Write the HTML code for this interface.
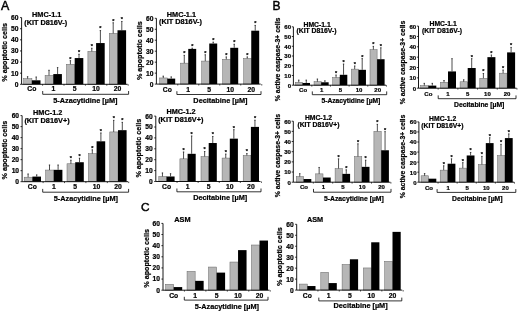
<!DOCTYPE html>
<html><head><meta charset="utf-8"><style>
html,body{margin:0;padding:0;background:#fff;}
svg{display:block;}
text{font-family:"Liberation Sans", sans-serif;font-weight:bold;fill:#000;stroke:#000;stroke-width:0.22px;}
svg{will-change:transform;}
</style></head><body>
<svg width="520" height="311" viewBox="0 0 520 311">
<rect width="520" height="311" fill="#fff"/>
<rect x="23.70" y="78.63" width="8.20" height="5.67" fill="#b6b6b6" stroke="#666" stroke-width="0.5"/>
<rect x="31.90" y="80.30" width="8.60" height="4.00" fill="#000"/>
<line x1="27.60" y1="78.63" x2="27.60" y2="76.41" stroke="#222" stroke-width="0.8"/>
<line x1="26.90" y1="76.71" x2="28.30" y2="76.71" stroke="#222" stroke-width="0.7"/>
<line x1="36.20" y1="80.30" x2="36.20" y2="76.74" stroke="#222" stroke-width="0.8"/>
<line x1="35.50" y1="77.04" x2="36.90" y2="77.04" stroke="#222" stroke-width="0.7"/>
<rect x="45.10" y="75.41" width="8.20" height="8.89" fill="#b6b6b6" stroke="#666" stroke-width="0.5"/>
<rect x="53.30" y="74.07" width="8.60" height="10.23" fill="#000"/>
<line x1="49.00" y1="75.41" x2="49.00" y2="69.96" stroke="#222" stroke-width="0.8"/>
<line x1="48.30" y1="70.26" x2="49.70" y2="70.26" stroke="#222" stroke-width="0.7"/>
<line x1="57.60" y1="74.07" x2="57.60" y2="67.29" stroke="#222" stroke-width="0.8"/>
<line x1="56.90" y1="67.59" x2="58.30" y2="67.59" stroke="#222" stroke-width="0.7"/>
<rect x="66.50" y="64.29" width="8.20" height="20.01" fill="#b6b6b6" stroke="#666" stroke-width="0.5"/>
<rect x="74.70" y="58.06" width="8.60" height="26.24" fill="#000"/>
<line x1="70.40" y1="64.29" x2="70.40" y2="60.40" stroke="#222" stroke-width="0.8"/>
<line x1="69.70" y1="60.70" x2="71.10" y2="60.70" stroke="#222" stroke-width="0.7"/>
<text x="70.40" y="60.60" font-size="5.5" text-anchor="middle" >*</text>
<line x1="79.00" y1="58.06" x2="79.00" y2="53.95" stroke="#222" stroke-width="0.8"/>
<line x1="78.30" y1="54.25" x2="79.70" y2="54.25" stroke="#222" stroke-width="0.7"/>
<text x="79.00" y="54.15" font-size="5.5" text-anchor="middle" >*</text>
<rect x="87.90" y="51.39" width="8.20" height="32.91" fill="#b6b6b6" stroke="#666" stroke-width="0.5"/>
<rect x="96.10" y="43.06" width="8.60" height="41.24" fill="#000"/>
<line x1="91.80" y1="51.39" x2="91.80" y2="47.95" stroke="#222" stroke-width="0.8"/>
<line x1="91.10" y1="48.25" x2="92.50" y2="48.25" stroke="#222" stroke-width="0.7"/>
<text x="91.80" y="48.15" font-size="5.5" text-anchor="middle" >*</text>
<line x1="100.40" y1="43.06" x2="100.40" y2="30.27" stroke="#222" stroke-width="0.8"/>
<line x1="99.70" y1="30.57" x2="101.10" y2="30.57" stroke="#222" stroke-width="0.7"/>
<text x="100.40" y="30.47" font-size="5.5" text-anchor="middle" >*</text>
<rect x="109.30" y="33.39" width="8.20" height="50.91" fill="#b6b6b6" stroke="#666" stroke-width="0.5"/>
<rect x="117.50" y="30.27" width="8.60" height="54.03" fill="#000"/>
<line x1="113.20" y1="33.39" x2="113.20" y2="22.49" stroke="#222" stroke-width="0.8"/>
<line x1="112.50" y1="22.79" x2="113.90" y2="22.79" stroke="#222" stroke-width="0.7"/>
<text x="113.20" y="22.69" font-size="5.5" text-anchor="middle" >*</text>
<line x1="121.80" y1="30.27" x2="121.80" y2="21.16" stroke="#222" stroke-width="0.8"/>
<line x1="121.10" y1="21.46" x2="122.50" y2="21.46" stroke="#222" stroke-width="0.7"/>
<text x="121.80" y="21.36" font-size="5.5" text-anchor="middle" >*</text>
<line x1="21.60" y1="17.60" x2="21.60" y2="84.30" stroke="#000" stroke-width="0.9"/>
<line x1="21.60" y1="84.30" x2="127.60" y2="84.30" stroke="#000" stroke-width="0.9"/>
<line x1="20.00" y1="84.30" x2="21.60" y2="84.30" stroke="#000" stroke-width="0.8"/>
<text x="18.40" y="86.71" font-size="6.7" text-anchor="end" >0</text>
<line x1="20.00" y1="73.18" x2="21.60" y2="73.18" stroke="#000" stroke-width="0.8"/>
<text x="18.40" y="75.60" font-size="6.7" text-anchor="end" >10</text>
<line x1="20.00" y1="62.07" x2="21.60" y2="62.07" stroke="#000" stroke-width="0.8"/>
<text x="18.40" y="64.48" font-size="6.7" text-anchor="end" >20</text>
<line x1="20.00" y1="50.95" x2="21.60" y2="50.95" stroke="#000" stroke-width="0.8"/>
<text x="18.40" y="53.36" font-size="6.7" text-anchor="end" >30</text>
<line x1="20.00" y1="39.83" x2="21.60" y2="39.83" stroke="#000" stroke-width="0.8"/>
<text x="18.40" y="42.25" font-size="6.7" text-anchor="end" >40</text>
<line x1="20.00" y1="28.72" x2="21.60" y2="28.72" stroke="#000" stroke-width="0.8"/>
<text x="18.40" y="31.13" font-size="6.7" text-anchor="end" >50</text>
<line x1="20.00" y1="17.60" x2="21.60" y2="17.60" stroke="#000" stroke-width="0.8"/>
<text x="18.40" y="20.01" font-size="6.7" text-anchor="end" >60</text>
<line x1="42.60" y1="84.30" x2="42.60" y2="85.70" stroke="#000" stroke-width="0.7"/>
<line x1="64.00" y1="84.30" x2="64.00" y2="85.70" stroke="#000" stroke-width="0.7"/>
<line x1="85.40" y1="84.30" x2="85.40" y2="85.70" stroke="#000" stroke-width="0.7"/>
<line x1="106.80" y1="84.30" x2="106.80" y2="85.70" stroke="#000" stroke-width="0.7"/>
<line x1="128.20" y1="84.30" x2="128.20" y2="85.70" stroke="#000" stroke-width="0.7"/>
<text x="31.90" y="91.30" font-size="6.8" text-anchor="middle" >Co</text>
<text x="53.30" y="91.30" font-size="6.8" text-anchor="middle" >1</text>
<text x="74.70" y="91.30" font-size="6.8" text-anchor="middle" >5</text>
<text x="96.10" y="91.30" font-size="6.8" text-anchor="middle" >10</text>
<text x="117.50" y="91.30" font-size="6.8" text-anchor="middle" >20</text>
<path d="M42.70,91.00 V94.30 H128.60 V91.00" fill="none" stroke="#000" stroke-width="0.8"/>
<text x="85.40" y="103.30" font-size="7.3" text-anchor="middle" >5-Azacytidine [µM]</text>
<text x="46.70" y="17.20" font-size="7.3" text-anchor="middle" >HMC-1.1</text>
<text x="45.70" y="25.20" font-size="7.3" text-anchor="middle" >(KIT D816V-)</text>
<text transform="translate(7.45,52.35) rotate(-90)" x="0" y="0" font-size="7.2" text-anchor="middle">% apoptotic cells</text>
<rect x="159.70" y="77.96" width="7.55" height="6.14" fill="#b6b6b6" stroke="#666" stroke-width="0.5"/>
<rect x="167.25" y="78.62" width="7.95" height="5.48" fill="#000"/>
<line x1="163.28" y1="77.96" x2="163.28" y2="75.88" stroke="#222" stroke-width="0.8"/>
<line x1="162.58" y1="76.17" x2="163.97" y2="76.17" stroke="#222" stroke-width="0.7"/>
<line x1="171.23" y1="78.62" x2="171.23" y2="76.64" stroke="#222" stroke-width="0.8"/>
<line x1="170.53" y1="76.94" x2="171.93" y2="76.94" stroke="#222" stroke-width="0.7"/>
<rect x="180.70" y="63.15" width="7.55" height="20.95" fill="#b6b6b6" stroke="#666" stroke-width="0.5"/>
<rect x="188.25" y="48.90" width="7.95" height="35.20" fill="#000"/>
<line x1="184.28" y1="63.15" x2="184.28" y2="55.04" stroke="#222" stroke-width="0.8"/>
<line x1="183.58" y1="55.34" x2="184.97" y2="55.34" stroke="#222" stroke-width="0.7"/>
<text x="184.28" y="55.24" font-size="5.5" text-anchor="middle" >*</text>
<line x1="192.23" y1="48.90" x2="192.23" y2="47.91" stroke="#222" stroke-width="0.8"/>
<line x1="191.53" y1="48.21" x2="192.93" y2="48.21" stroke="#222" stroke-width="0.7"/>
<text x="192.23" y="48.11" font-size="5.5" text-anchor="middle" >*</text>
<rect x="201.70" y="61.07" width="7.55" height="23.03" fill="#b6b6b6" stroke="#666" stroke-width="0.5"/>
<rect x="209.25" y="43.52" width="7.95" height="40.58" fill="#000"/>
<line x1="205.28" y1="61.07" x2="205.28" y2="54.49" stroke="#222" stroke-width="0.8"/>
<line x1="204.58" y1="54.79" x2="205.97" y2="54.79" stroke="#222" stroke-width="0.7"/>
<text x="205.28" y="54.69" font-size="5.5" text-anchor="middle" >*</text>
<line x1="213.23" y1="43.52" x2="213.23" y2="41.88" stroke="#222" stroke-width="0.8"/>
<line x1="212.53" y1="42.18" x2="213.93" y2="42.18" stroke="#222" stroke-width="0.7"/>
<text x="213.23" y="42.08" font-size="5.5" text-anchor="middle" >*</text>
<rect x="222.70" y="59.32" width="7.55" height="24.78" fill="#b6b6b6" stroke="#666" stroke-width="0.5"/>
<rect x="230.25" y="47.80" width="7.95" height="36.30" fill="#000"/>
<line x1="226.28" y1="59.32" x2="226.28" y2="56.68" stroke="#222" stroke-width="0.8"/>
<line x1="225.58" y1="56.98" x2="226.97" y2="56.98" stroke="#222" stroke-width="0.7"/>
<text x="226.28" y="56.88" font-size="5.5" text-anchor="middle" >*</text>
<line x1="234.23" y1="47.80" x2="234.23" y2="43.96" stroke="#222" stroke-width="0.8"/>
<line x1="233.53" y1="44.26" x2="234.93" y2="44.26" stroke="#222" stroke-width="0.7"/>
<text x="234.23" y="44.16" font-size="5.5" text-anchor="middle" >*</text>
<rect x="243.70" y="58.44" width="7.55" height="25.66" fill="#b6b6b6" stroke="#666" stroke-width="0.5"/>
<rect x="251.25" y="30.69" width="7.95" height="53.41" fill="#000"/>
<line x1="247.28" y1="58.44" x2="247.28" y2="56.68" stroke="#222" stroke-width="0.8"/>
<line x1="246.58" y1="56.98" x2="247.97" y2="56.98" stroke="#222" stroke-width="0.7"/>
<text x="247.28" y="56.88" font-size="5.5" text-anchor="middle" >*</text>
<line x1="255.23" y1="30.69" x2="255.23" y2="25.10" stroke="#222" stroke-width="0.8"/>
<line x1="254.53" y1="25.40" x2="255.93" y2="25.40" stroke="#222" stroke-width="0.7"/>
<text x="255.23" y="25.30" font-size="5.5" text-anchor="middle" >*</text>
<line x1="156.40" y1="18.30" x2="156.40" y2="84.10" stroke="#000" stroke-width="0.9"/>
<line x1="156.40" y1="84.10" x2="260.70" y2="84.10" stroke="#000" stroke-width="0.9"/>
<line x1="154.80" y1="84.10" x2="156.40" y2="84.10" stroke="#000" stroke-width="0.8"/>
<text x="153.40" y="86.51" font-size="6.7" text-anchor="end" >0</text>
<line x1="154.80" y1="73.13" x2="156.40" y2="73.13" stroke="#000" stroke-width="0.8"/>
<text x="153.40" y="75.55" font-size="6.7" text-anchor="end" >10</text>
<line x1="154.80" y1="62.17" x2="156.40" y2="62.17" stroke="#000" stroke-width="0.8"/>
<text x="153.40" y="64.58" font-size="6.7" text-anchor="end" >20</text>
<line x1="154.80" y1="51.20" x2="156.40" y2="51.20" stroke="#000" stroke-width="0.8"/>
<text x="153.40" y="53.61" font-size="6.7" text-anchor="end" >30</text>
<line x1="154.80" y1="40.23" x2="156.40" y2="40.23" stroke="#000" stroke-width="0.8"/>
<text x="153.40" y="42.65" font-size="6.7" text-anchor="end" >40</text>
<line x1="154.80" y1="29.27" x2="156.40" y2="29.27" stroke="#000" stroke-width="0.8"/>
<text x="153.40" y="31.68" font-size="6.7" text-anchor="end" >50</text>
<line x1="154.80" y1="18.30" x2="156.40" y2="18.30" stroke="#000" stroke-width="0.8"/>
<text x="153.40" y="20.71" font-size="6.7" text-anchor="end" >60</text>
<line x1="177.75" y1="84.10" x2="177.75" y2="85.50" stroke="#000" stroke-width="0.7"/>
<line x1="198.75" y1="84.10" x2="198.75" y2="85.50" stroke="#000" stroke-width="0.7"/>
<line x1="219.75" y1="84.10" x2="219.75" y2="85.50" stroke="#000" stroke-width="0.7"/>
<line x1="240.75" y1="84.10" x2="240.75" y2="85.50" stroke="#000" stroke-width="0.7"/>
<line x1="261.75" y1="84.10" x2="261.75" y2="85.50" stroke="#000" stroke-width="0.7"/>
<text x="167.25" y="91.70" font-size="6.8" text-anchor="middle" >Co</text>
<text x="188.25" y="91.70" font-size="6.8" text-anchor="middle" >1</text>
<text x="209.25" y="91.70" font-size="6.8" text-anchor="middle" >5</text>
<text x="230.25" y="91.70" font-size="6.8" text-anchor="middle" >10</text>
<text x="251.25" y="91.70" font-size="6.8" text-anchor="middle" >20</text>
<path d="M176.90,91.20 V94.50 H261.00 V91.20" fill="none" stroke="#000" stroke-width="0.8"/>
<text x="220.40" y="103.30" font-size="7.3" text-anchor="middle" >Decitabine [µM]</text>
<text x="181.40" y="17.20" font-size="7.3" text-anchor="middle" >HMC-1.1</text>
<text x="180.50" y="24.40" font-size="7.3" text-anchor="middle" >(KIT D816V-)</text>
<text transform="translate(141.65,50.70) rotate(-90)" x="0" y="0" font-size="7.2" text-anchor="middle">% apoptotic cells</text>
<rect x="24.20" y="177.20" width="8.20" height="4.50" fill="#b6b6b6" stroke="#666" stroke-width="0.5"/>
<rect x="32.40" y="176.59" width="8.60" height="5.11" fill="#000"/>
<line x1="28.10" y1="177.20" x2="28.10" y2="173.73" stroke="#222" stroke-width="0.8"/>
<line x1="27.40" y1="174.03" x2="28.80" y2="174.03" stroke="#222" stroke-width="0.7"/>
<line x1="36.70" y1="176.59" x2="36.70" y2="174.65" stroke="#222" stroke-width="0.8"/>
<line x1="36.00" y1="174.95" x2="37.40" y2="174.95" stroke="#222" stroke-width="0.7"/>
<rect x="45.60" y="170.05" width="8.20" height="11.65" fill="#b6b6b6" stroke="#666" stroke-width="0.5"/>
<rect x="53.80" y="169.83" width="8.60" height="11.87" fill="#000"/>
<line x1="49.50" y1="170.05" x2="49.50" y2="164.76" stroke="#222" stroke-width="0.8"/>
<line x1="48.80" y1="165.06" x2="50.20" y2="165.06" stroke="#222" stroke-width="0.7"/>
<line x1="58.10" y1="169.83" x2="58.10" y2="164.76" stroke="#222" stroke-width="0.8"/>
<line x1="57.40" y1="165.06" x2="58.80" y2="165.06" stroke="#222" stroke-width="0.7"/>
<rect x="67.00" y="163.77" width="8.20" height="17.93" fill="#b6b6b6" stroke="#666" stroke-width="0.5"/>
<rect x="75.20" y="162.23" width="8.60" height="19.47" fill="#000"/>
<line x1="70.90" y1="163.77" x2="70.90" y2="159.92" stroke="#222" stroke-width="0.8"/>
<line x1="70.20" y1="160.22" x2="71.60" y2="160.22" stroke="#222" stroke-width="0.7"/>
<text x="70.90" y="160.12" font-size="5.5" text-anchor="middle" >*</text>
<line x1="79.50" y1="162.23" x2="79.50" y2="157.93" stroke="#222" stroke-width="0.8"/>
<line x1="78.80" y1="158.23" x2="80.20" y2="158.23" stroke="#222" stroke-width="0.7"/>
<text x="79.50" y="158.13" font-size="5.5" text-anchor="middle" >*</text>
<rect x="88.40" y="153.64" width="8.20" height="28.06" fill="#b6b6b6" stroke="#666" stroke-width="0.5"/>
<rect x="96.60" y="141.30" width="8.60" height="40.40" fill="#000"/>
<line x1="92.30" y1="153.64" x2="92.30" y2="149.56" stroke="#222" stroke-width="0.8"/>
<line x1="91.60" y1="149.86" x2="93.00" y2="149.86" stroke="#222" stroke-width="0.7"/>
<text x="92.30" y="149.76" font-size="5.5" text-anchor="middle" >*</text>
<line x1="100.90" y1="141.30" x2="100.90" y2="132.70" stroke="#222" stroke-width="0.8"/>
<line x1="100.20" y1="133.00" x2="101.60" y2="133.00" stroke="#222" stroke-width="0.7"/>
<text x="100.90" y="132.90" font-size="5.5" text-anchor="middle" >*</text>
<rect x="109.80" y="131.93" width="8.20" height="49.77" fill="#b6b6b6" stroke="#666" stroke-width="0.5"/>
<rect x="118.00" y="130.17" width="8.60" height="51.53" fill="#000"/>
<line x1="113.70" y1="131.93" x2="113.70" y2="120.04" stroke="#222" stroke-width="0.8"/>
<line x1="113.00" y1="120.34" x2="114.40" y2="120.34" stroke="#222" stroke-width="0.7"/>
<text x="113.70" y="120.24" font-size="5.5" text-anchor="middle" >*</text>
<line x1="122.30" y1="130.17" x2="122.30" y2="122.02" stroke="#222" stroke-width="0.8"/>
<line x1="121.60" y1="122.32" x2="123.00" y2="122.32" stroke="#222" stroke-width="0.7"/>
<text x="122.30" y="122.22" font-size="5.5" text-anchor="middle" >*</text>
<line x1="22.10" y1="115.60" x2="22.10" y2="181.70" stroke="#000" stroke-width="0.9"/>
<line x1="22.10" y1="181.70" x2="128.10" y2="181.70" stroke="#000" stroke-width="0.9"/>
<line x1="20.50" y1="181.70" x2="22.10" y2="181.70" stroke="#000" stroke-width="0.8"/>
<text x="19.10" y="184.11" font-size="6.7" text-anchor="end" >0</text>
<line x1="20.50" y1="170.68" x2="22.10" y2="170.68" stroke="#000" stroke-width="0.8"/>
<text x="19.10" y="173.10" font-size="6.7" text-anchor="end" >10</text>
<line x1="20.50" y1="159.67" x2="22.10" y2="159.67" stroke="#000" stroke-width="0.8"/>
<text x="19.10" y="162.08" font-size="6.7" text-anchor="end" >20</text>
<line x1="20.50" y1="148.65" x2="22.10" y2="148.65" stroke="#000" stroke-width="0.8"/>
<text x="19.10" y="151.06" font-size="6.7" text-anchor="end" >30</text>
<line x1="20.50" y1="137.63" x2="22.10" y2="137.63" stroke="#000" stroke-width="0.8"/>
<text x="19.10" y="140.05" font-size="6.7" text-anchor="end" >40</text>
<line x1="20.50" y1="126.62" x2="22.10" y2="126.62" stroke="#000" stroke-width="0.8"/>
<text x="19.10" y="129.03" font-size="6.7" text-anchor="end" >50</text>
<line x1="20.50" y1="115.60" x2="22.10" y2="115.60" stroke="#000" stroke-width="0.8"/>
<text x="19.10" y="118.01" font-size="6.7" text-anchor="end" >60</text>
<line x1="43.10" y1="181.70" x2="43.10" y2="183.10" stroke="#000" stroke-width="0.7"/>
<line x1="64.50" y1="181.70" x2="64.50" y2="183.10" stroke="#000" stroke-width="0.7"/>
<line x1="85.90" y1="181.70" x2="85.90" y2="183.10" stroke="#000" stroke-width="0.7"/>
<line x1="107.30" y1="181.70" x2="107.30" y2="183.10" stroke="#000" stroke-width="0.7"/>
<line x1="128.70" y1="181.70" x2="128.70" y2="183.10" stroke="#000" stroke-width="0.7"/>
<text x="32.40" y="189.20" font-size="6.8" text-anchor="middle" >Co</text>
<text x="53.80" y="189.20" font-size="6.8" text-anchor="middle" >1</text>
<text x="75.20" y="189.20" font-size="6.8" text-anchor="middle" >5</text>
<text x="96.60" y="189.20" font-size="6.8" text-anchor="middle" >10</text>
<text x="118.00" y="189.20" font-size="6.8" text-anchor="middle" >20</text>
<path d="M42.70,188.90 V192.20 H128.60 V188.90" fill="none" stroke="#000" stroke-width="0.8"/>
<text x="85.85" y="201.30" font-size="7.3" text-anchor="middle" >5-Azacytidine [µM]</text>
<text x="47.70" y="114.60" font-size="7.3" text-anchor="middle" >HMC-1.2</text>
<text x="47.00" y="122.50" font-size="7.3" text-anchor="middle" >(KIT D816V+)</text>
<text transform="translate(7.45,150.05) rotate(-90)" x="0" y="0" font-size="7.2" text-anchor="middle">% apoptotic cells</text>
<rect x="158.80" y="176.49" width="7.70" height="5.01" fill="#b6b6b6" stroke="#666" stroke-width="0.5"/>
<rect x="166.50" y="176.49" width="8.10" height="5.01" fill="#000"/>
<line x1="162.45" y1="176.49" x2="162.45" y2="172.67" stroke="#222" stroke-width="0.8"/>
<line x1="161.75" y1="172.97" x2="163.15" y2="172.97" stroke="#222" stroke-width="0.7"/>
<line x1="170.55" y1="176.49" x2="170.55" y2="173.43" stroke="#222" stroke-width="0.8"/>
<line x1="169.85" y1="173.73" x2="171.25" y2="173.73" stroke="#222" stroke-width="0.7"/>
<rect x="179.90" y="158.83" width="7.70" height="22.67" fill="#b6b6b6" stroke="#666" stroke-width="0.5"/>
<rect x="187.60" y="153.81" width="8.10" height="27.69" fill="#000"/>
<line x1="183.55" y1="158.83" x2="183.55" y2="151.74" stroke="#222" stroke-width="0.8"/>
<line x1="182.85" y1="152.04" x2="184.25" y2="152.04" stroke="#222" stroke-width="0.7"/>
<text x="183.55" y="151.94" font-size="5.5" text-anchor="middle" >*</text>
<line x1="191.65" y1="153.81" x2="191.65" y2="135.72" stroke="#222" stroke-width="0.8"/>
<line x1="190.95" y1="136.02" x2="192.35" y2="136.02" stroke="#222" stroke-width="0.7"/>
<text x="191.65" y="135.92" font-size="5.5" text-anchor="middle" >*</text>
<rect x="201.00" y="156.54" width="7.70" height="24.96" fill="#b6b6b6" stroke="#666" stroke-width="0.5"/>
<rect x="208.70" y="143.02" width="8.10" height="38.48" fill="#000"/>
<line x1="204.65" y1="156.54" x2="204.65" y2="151.20" stroke="#222" stroke-width="0.8"/>
<line x1="203.95" y1="151.50" x2="205.35" y2="151.50" stroke="#222" stroke-width="0.7"/>
<text x="204.65" y="151.40" font-size="5.5" text-anchor="middle" >*</text>
<line x1="212.75" y1="143.02" x2="212.75" y2="136.16" stroke="#222" stroke-width="0.8"/>
<line x1="212.05" y1="136.46" x2="213.45" y2="136.46" stroke="#222" stroke-width="0.7"/>
<text x="212.75" y="136.36" font-size="5.5" text-anchor="middle" >*</text>
<rect x="222.10" y="158.06" width="7.70" height="23.44" fill="#b6b6b6" stroke="#666" stroke-width="0.5"/>
<rect x="229.80" y="138.66" width="8.10" height="42.84" fill="#000"/>
<line x1="225.75" y1="158.06" x2="225.75" y2="153.81" stroke="#222" stroke-width="0.8"/>
<line x1="225.05" y1="154.11" x2="226.45" y2="154.11" stroke="#222" stroke-width="0.7"/>
<text x="225.75" y="154.01" font-size="5.5" text-anchor="middle" >*</text>
<line x1="233.85" y1="138.66" x2="233.85" y2="129.40" stroke="#222" stroke-width="0.8"/>
<line x1="233.15" y1="129.70" x2="234.55" y2="129.70" stroke="#222" stroke-width="0.7"/>
<text x="233.85" y="129.60" font-size="5.5" text-anchor="middle" >*</text>
<rect x="243.20" y="155.45" width="7.70" height="26.05" fill="#b6b6b6" stroke="#666" stroke-width="0.5"/>
<rect x="250.90" y="126.89" width="8.10" height="54.61" fill="#000"/>
<line x1="246.85" y1="155.45" x2="246.85" y2="153.27" stroke="#222" stroke-width="0.8"/>
<line x1="246.15" y1="153.57" x2="247.55" y2="153.57" stroke="#222" stroke-width="0.7"/>
<text x="246.85" y="153.47" font-size="5.5" text-anchor="middle" >*</text>
<line x1="254.95" y1="126.89" x2="254.95" y2="119.91" stroke="#222" stroke-width="0.8"/>
<line x1="254.25" y1="120.21" x2="255.65" y2="120.21" stroke="#222" stroke-width="0.7"/>
<text x="254.95" y="120.11" font-size="5.5" text-anchor="middle" >*</text>
<line x1="155.80" y1="116.10" x2="155.80" y2="181.50" stroke="#000" stroke-width="0.9"/>
<line x1="155.80" y1="181.50" x2="260.50" y2="181.50" stroke="#000" stroke-width="0.9"/>
<line x1="154.20" y1="181.50" x2="155.80" y2="181.50" stroke="#000" stroke-width="0.8"/>
<text x="152.80" y="183.91" font-size="6.7" text-anchor="end" >0</text>
<line x1="154.20" y1="170.60" x2="155.80" y2="170.60" stroke="#000" stroke-width="0.8"/>
<text x="152.80" y="173.01" font-size="6.7" text-anchor="end" >10</text>
<line x1="154.20" y1="159.70" x2="155.80" y2="159.70" stroke="#000" stroke-width="0.8"/>
<text x="152.80" y="162.11" font-size="6.7" text-anchor="end" >20</text>
<line x1="154.20" y1="148.80" x2="155.80" y2="148.80" stroke="#000" stroke-width="0.8"/>
<text x="152.80" y="151.21" font-size="6.7" text-anchor="end" >30</text>
<line x1="154.20" y1="137.90" x2="155.80" y2="137.90" stroke="#000" stroke-width="0.8"/>
<text x="152.80" y="140.31" font-size="6.7" text-anchor="end" >40</text>
<line x1="154.20" y1="127.00" x2="155.80" y2="127.00" stroke="#000" stroke-width="0.8"/>
<text x="152.80" y="129.41" font-size="6.7" text-anchor="end" >50</text>
<line x1="154.20" y1="116.10" x2="155.80" y2="116.10" stroke="#000" stroke-width="0.8"/>
<text x="152.80" y="118.51" font-size="6.7" text-anchor="end" >60</text>
<line x1="177.05" y1="181.50" x2="177.05" y2="182.90" stroke="#000" stroke-width="0.7"/>
<line x1="198.15" y1="181.50" x2="198.15" y2="182.90" stroke="#000" stroke-width="0.7"/>
<line x1="219.25" y1="181.50" x2="219.25" y2="182.90" stroke="#000" stroke-width="0.7"/>
<line x1="240.35" y1="181.50" x2="240.35" y2="182.90" stroke="#000" stroke-width="0.7"/>
<line x1="261.45" y1="181.50" x2="261.45" y2="182.90" stroke="#000" stroke-width="0.7"/>
<text x="166.50" y="189.30" font-size="6.8" text-anchor="middle" >Co</text>
<text x="187.60" y="189.30" font-size="6.8" text-anchor="middle" >1</text>
<text x="208.70" y="189.30" font-size="6.8" text-anchor="middle" >5</text>
<text x="229.80" y="189.30" font-size="6.8" text-anchor="middle" >10</text>
<text x="250.90" y="189.30" font-size="6.8" text-anchor="middle" >20</text>
<path d="M176.90,188.50 V191.80 H261.00 V188.50" fill="none" stroke="#000" stroke-width="0.8"/>
<text x="220.20" y="199.80" font-size="7.3" text-anchor="middle" >Decitabine [µM]</text>
<text x="181.10" y="113.80" font-size="7.3" text-anchor="middle" >HMC-1.2</text>
<text x="180.80" y="121.60" font-size="7.3" text-anchor="middle" >(KIT D816V+)</text>
<text transform="translate(141.45,148.20) rotate(-90)" x="0" y="0" font-size="7.2" text-anchor="middle">% apoptotic cells</text>
<rect x="295.40" y="82.28" width="7.10" height="2.92" fill="#b6b6b6" stroke="#666" stroke-width="0.5"/>
<rect x="302.50" y="82.96" width="7.50" height="2.24" fill="#000"/>
<line x1="298.75" y1="82.28" x2="298.75" y2="79.85" stroke="#222" stroke-width="0.8"/>
<line x1="298.05" y1="80.15" x2="299.45" y2="80.15" stroke="#222" stroke-width="0.7"/>
<line x1="306.25" y1="82.96" x2="306.25" y2="79.85" stroke="#222" stroke-width="0.8"/>
<line x1="305.55" y1="80.15" x2="306.95" y2="80.15" stroke="#222" stroke-width="0.7"/>
<rect x="314.05" y="81.70" width="7.10" height="3.50" fill="#b6b6b6" stroke="#666" stroke-width="0.5"/>
<rect x="321.15" y="82.28" width="7.50" height="2.92" fill="#000"/>
<line x1="317.40" y1="81.70" x2="317.40" y2="78.78" stroke="#222" stroke-width="0.8"/>
<line x1="316.70" y1="79.08" x2="318.10" y2="79.08" stroke="#222" stroke-width="0.7"/>
<line x1="324.90" y1="82.28" x2="324.90" y2="80.53" stroke="#222" stroke-width="0.8"/>
<line x1="324.20" y1="80.83" x2="325.60" y2="80.83" stroke="#222" stroke-width="0.7"/>
<rect x="332.70" y="77.51" width="7.10" height="7.69" fill="#b6b6b6" stroke="#666" stroke-width="0.5"/>
<rect x="339.80" y="74.79" width="7.50" height="10.41" fill="#000"/>
<line x1="336.05" y1="77.51" x2="336.05" y2="74.79" stroke="#222" stroke-width="0.8"/>
<line x1="335.35" y1="75.09" x2="336.75" y2="75.09" stroke="#222" stroke-width="0.7"/>
<text x="336.05" y="74.99" font-size="5.5" text-anchor="middle" >*</text>
<line x1="343.55" y1="74.79" x2="343.55" y2="63.79" stroke="#222" stroke-width="0.8"/>
<line x1="342.85" y1="64.09" x2="344.25" y2="64.09" stroke="#222" stroke-width="0.7"/>
<text x="343.55" y="63.99" font-size="5.5" text-anchor="middle" >*</text>
<rect x="351.35" y="69.14" width="7.10" height="16.06" fill="#b6b6b6" stroke="#666" stroke-width="0.5"/>
<rect x="358.45" y="69.82" width="7.50" height="15.38" fill="#000"/>
<line x1="354.70" y1="69.14" x2="354.70" y2="65.73" stroke="#222" stroke-width="0.8"/>
<line x1="354.00" y1="66.03" x2="355.40" y2="66.03" stroke="#222" stroke-width="0.7"/>
<text x="354.70" y="65.93" font-size="5.5" text-anchor="middle" >*</text>
<line x1="362.20" y1="69.82" x2="362.20" y2="58.34" stroke="#222" stroke-width="0.8"/>
<line x1="361.50" y1="58.64" x2="362.90" y2="58.64" stroke="#222" stroke-width="0.7"/>
<text x="362.20" y="58.54" font-size="5.5" text-anchor="middle" >*</text>
<rect x="370.00" y="49.58" width="7.10" height="35.62" fill="#b6b6b6" stroke="#666" stroke-width="0.5"/>
<rect x="377.10" y="59.21" width="7.50" height="25.99" fill="#000"/>
<line x1="373.35" y1="49.58" x2="373.35" y2="46.07" stroke="#222" stroke-width="0.8"/>
<line x1="372.65" y1="46.37" x2="374.05" y2="46.37" stroke="#222" stroke-width="0.7"/>
<text x="373.35" y="46.27" font-size="5.5" text-anchor="middle" >*</text>
<line x1="380.85" y1="59.21" x2="380.85" y2="47.53" stroke="#222" stroke-width="0.8"/>
<line x1="380.15" y1="47.83" x2="381.55" y2="47.83" stroke="#222" stroke-width="0.7"/>
<text x="380.85" y="47.73" font-size="5.5" text-anchor="middle" >*</text>
<line x1="293.40" y1="26.80" x2="293.40" y2="85.20" stroke="#000" stroke-width="0.9"/>
<line x1="293.40" y1="85.20" x2="386.10" y2="85.20" stroke="#000" stroke-width="0.9"/>
<line x1="291.80" y1="85.20" x2="293.40" y2="85.20" stroke="#000" stroke-width="0.8"/>
<text x="291.00" y="87.66" font-size="6.0" text-anchor="end" >0</text>
<line x1="291.80" y1="75.47" x2="293.40" y2="75.47" stroke="#000" stroke-width="0.8"/>
<text x="291.00" y="77.93" font-size="6.0" text-anchor="end" >10</text>
<line x1="291.80" y1="65.73" x2="293.40" y2="65.73" stroke="#000" stroke-width="0.8"/>
<text x="291.00" y="68.19" font-size="6.0" text-anchor="end" >20</text>
<line x1="291.80" y1="56.00" x2="293.40" y2="56.00" stroke="#000" stroke-width="0.8"/>
<text x="291.00" y="58.46" font-size="6.0" text-anchor="end" >30</text>
<line x1="291.80" y1="46.27" x2="293.40" y2="46.27" stroke="#000" stroke-width="0.8"/>
<text x="291.00" y="48.73" font-size="6.0" text-anchor="end" >40</text>
<line x1="291.80" y1="36.53" x2="293.40" y2="36.53" stroke="#000" stroke-width="0.8"/>
<text x="291.00" y="38.99" font-size="6.0" text-anchor="end" >50</text>
<line x1="291.80" y1="26.80" x2="293.40" y2="26.80" stroke="#000" stroke-width="0.8"/>
<text x="291.00" y="29.26" font-size="6.0" text-anchor="end" >60</text>
<line x1="311.82" y1="85.20" x2="311.82" y2="86.60" stroke="#000" stroke-width="0.7"/>
<line x1="330.48" y1="85.20" x2="330.48" y2="86.60" stroke="#000" stroke-width="0.7"/>
<line x1="349.12" y1="85.20" x2="349.12" y2="86.60" stroke="#000" stroke-width="0.7"/>
<line x1="367.78" y1="85.20" x2="367.78" y2="86.60" stroke="#000" stroke-width="0.7"/>
<line x1="386.43" y1="85.20" x2="386.43" y2="86.60" stroke="#000" stroke-width="0.7"/>
<text x="303.10" y="92.40" font-size="6.0" text-anchor="middle" >Co</text>
<text x="321.75" y="92.40" font-size="6.0" text-anchor="middle" >1</text>
<text x="340.40" y="92.40" font-size="6.0" text-anchor="middle" >5</text>
<text x="359.05" y="92.40" font-size="6.0" text-anchor="middle" >10</text>
<text x="377.70" y="92.40" font-size="6.0" text-anchor="middle" >20</text>
<path d="M312.30,91.40 V94.70 H386.70 V91.40" fill="none" stroke="#000" stroke-width="0.8"/>
<text x="350.90" y="103.20" font-size="6.7" text-anchor="middle" >5-Azacytidine [µM]</text>
<text x="317.10" y="27.00" font-size="6.8" text-anchor="middle" >HMC-1.1</text>
<text x="316.50" y="33.30" font-size="6.8" text-anchor="middle" >(KIT D816V-)</text>
<text transform="translate(280.43,59.40) rotate(-90)" x="0" y="0" font-size="6.85" text-anchor="middle">% active caspase-3+ cells</text>
<rect x="420.70" y="85.61" width="7.60" height="2.59" fill="#b6b6b6" stroke="#666" stroke-width="0.5"/>
<rect x="428.30" y="85.61" width="8.00" height="2.59" fill="#000"/>
<line x1="424.30" y1="85.61" x2="424.30" y2="83.03" stroke="#222" stroke-width="0.8"/>
<line x1="423.60" y1="83.33" x2="425.00" y2="83.33" stroke="#222" stroke-width="0.7"/>
<line x1="432.30" y1="85.61" x2="432.30" y2="83.03" stroke="#222" stroke-width="0.8"/>
<line x1="431.60" y1="83.33" x2="433.00" y2="83.33" stroke="#222" stroke-width="0.7"/>
<rect x="440.40" y="82.30" width="7.60" height="5.90" fill="#b6b6b6" stroke="#666" stroke-width="0.5"/>
<rect x="448.00" y="71.43" width="8.00" height="16.77" fill="#000"/>
<line x1="444.00" y1="82.30" x2="444.00" y2="80.23" stroke="#222" stroke-width="0.8"/>
<line x1="443.30" y1="80.53" x2="444.70" y2="80.53" stroke="#222" stroke-width="0.7"/>
<line x1="452.00" y1="71.43" x2="452.00" y2="58.39" stroke="#222" stroke-width="0.8"/>
<line x1="451.30" y1="58.69" x2="452.70" y2="58.69" stroke="#222" stroke-width="0.7"/>
<rect x="460.10" y="81.78" width="7.60" height="6.42" fill="#b6b6b6" stroke="#666" stroke-width="0.5"/>
<rect x="467.70" y="68.02" width="8.00" height="20.18" fill="#000"/>
<line x1="463.70" y1="81.78" x2="463.70" y2="79.51" stroke="#222" stroke-width="0.8"/>
<line x1="463.00" y1="79.81" x2="464.40" y2="79.81" stroke="#222" stroke-width="0.7"/>
<line x1="471.70" y1="68.02" x2="471.70" y2="58.39" stroke="#222" stroke-width="0.8"/>
<line x1="471.00" y1="58.69" x2="472.40" y2="58.69" stroke="#222" stroke-width="0.7"/>
<text x="471.70" y="58.59" font-size="5.5" text-anchor="middle" >*</text>
<rect x="479.80" y="78.26" width="7.60" height="9.94" fill="#b6b6b6" stroke="#666" stroke-width="0.5"/>
<rect x="487.40" y="57.15" width="8.00" height="31.05" fill="#000"/>
<line x1="483.40" y1="78.26" x2="483.40" y2="73.19" stroke="#222" stroke-width="0.8"/>
<line x1="482.70" y1="73.49" x2="484.10" y2="73.49" stroke="#222" stroke-width="0.7"/>
<text x="483.40" y="73.39" font-size="5.5" text-anchor="middle" >*</text>
<line x1="491.40" y1="57.15" x2="491.40" y2="54.77" stroke="#222" stroke-width="0.8"/>
<line x1="490.70" y1="55.07" x2="492.10" y2="55.07" stroke="#222" stroke-width="0.7"/>
<text x="491.40" y="54.97" font-size="5.5" text-anchor="middle" >*</text>
<rect x="499.50" y="73.19" width="7.60" height="15.01" fill="#b6b6b6" stroke="#666" stroke-width="0.5"/>
<rect x="507.10" y="52.39" width="8.00" height="35.81" fill="#000"/>
<line x1="503.10" y1="73.19" x2="503.10" y2="69.78" stroke="#222" stroke-width="0.8"/>
<line x1="502.40" y1="70.08" x2="503.80" y2="70.08" stroke="#222" stroke-width="0.7"/>
<text x="503.10" y="69.98" font-size="5.5" text-anchor="middle" >*</text>
<line x1="511.10" y1="52.39" x2="511.10" y2="47.11" stroke="#222" stroke-width="0.8"/>
<line x1="510.40" y1="47.41" x2="511.80" y2="47.41" stroke="#222" stroke-width="0.7"/>
<text x="511.10" y="47.31" font-size="5.5" text-anchor="middle" >*</text>
<line x1="418.50" y1="26.10" x2="418.50" y2="88.20" stroke="#000" stroke-width="0.9"/>
<line x1="418.50" y1="88.20" x2="516.60" y2="88.20" stroke="#000" stroke-width="0.9"/>
<line x1="416.90" y1="88.20" x2="418.50" y2="88.20" stroke="#000" stroke-width="0.8"/>
<text x="416.10" y="90.66" font-size="6.0" text-anchor="end" >0</text>
<line x1="416.90" y1="77.85" x2="418.50" y2="77.85" stroke="#000" stroke-width="0.8"/>
<text x="416.10" y="80.31" font-size="6.0" text-anchor="end" >10</text>
<line x1="416.90" y1="67.50" x2="418.50" y2="67.50" stroke="#000" stroke-width="0.8"/>
<text x="416.10" y="69.96" font-size="6.0" text-anchor="end" >20</text>
<line x1="416.90" y1="57.15" x2="418.50" y2="57.15" stroke="#000" stroke-width="0.8"/>
<text x="416.10" y="59.61" font-size="6.0" text-anchor="end" >30</text>
<line x1="416.90" y1="46.80" x2="418.50" y2="46.80" stroke="#000" stroke-width="0.8"/>
<text x="416.10" y="49.26" font-size="6.0" text-anchor="end" >40</text>
<line x1="416.90" y1="36.45" x2="418.50" y2="36.45" stroke="#000" stroke-width="0.8"/>
<text x="416.10" y="38.91" font-size="6.0" text-anchor="end" >50</text>
<line x1="416.90" y1="26.10" x2="418.50" y2="26.10" stroke="#000" stroke-width="0.8"/>
<text x="416.10" y="28.56" font-size="6.0" text-anchor="end" >60</text>
<line x1="438.15" y1="88.20" x2="438.15" y2="89.60" stroke="#000" stroke-width="0.7"/>
<line x1="457.85" y1="88.20" x2="457.85" y2="89.60" stroke="#000" stroke-width="0.7"/>
<line x1="477.55" y1="88.20" x2="477.55" y2="89.60" stroke="#000" stroke-width="0.7"/>
<line x1="497.25" y1="88.20" x2="497.25" y2="89.60" stroke="#000" stroke-width="0.7"/>
<line x1="516.95" y1="88.20" x2="516.95" y2="89.60" stroke="#000" stroke-width="0.7"/>
<text x="428.30" y="95.60" font-size="6.0" text-anchor="middle" >Co</text>
<text x="448.00" y="95.60" font-size="6.0" text-anchor="middle" >1</text>
<text x="467.70" y="95.60" font-size="6.0" text-anchor="middle" >5</text>
<text x="487.40" y="95.60" font-size="6.0" text-anchor="middle" >10</text>
<text x="507.10" y="95.60" font-size="6.0" text-anchor="middle" >20</text>
<path d="M438.20,95.40 V98.70 H516.00 V95.40" fill="none" stroke="#000" stroke-width="0.8"/>
<text x="479.20" y="107.00" font-size="6.8" text-anchor="middle" >Decitabine [µM]</text>
<text x="443.10" y="26.40" font-size="6.8" text-anchor="middle" >HMC-1.1</text>
<text x="442.00" y="32.80" font-size="6.8" text-anchor="middle" >(KIT D816V-)</text>
<text transform="translate(404.53,62.50) rotate(-90)" x="0" y="0" font-size="6.85" text-anchor="middle">% active caspase-3+ cells</text>
<rect x="296.30" y="176.58" width="7.30" height="5.62" fill="#b6b6b6" stroke="#666" stroke-width="0.5"/>
<rect x="303.60" y="179.02" width="7.70" height="3.18" fill="#000"/>
<line x1="299.75" y1="176.58" x2="299.75" y2="173.40" stroke="#222" stroke-width="0.8"/>
<line x1="299.05" y1="173.70" x2="300.45" y2="173.70" stroke="#222" stroke-width="0.7"/>
<rect x="315.70" y="173.86" width="7.30" height="8.34" fill="#b6b6b6" stroke="#666" stroke-width="0.5"/>
<rect x="323.00" y="177.52" width="7.70" height="4.68" fill="#000"/>
<line x1="319.15" y1="173.86" x2="319.15" y2="167.14" stroke="#222" stroke-width="0.8"/>
<line x1="318.45" y1="167.44" x2="319.85" y2="167.44" stroke="#222" stroke-width="0.7"/>
<rect x="335.10" y="168.56" width="7.30" height="13.64" fill="#b6b6b6" stroke="#666" stroke-width="0.5"/>
<rect x="342.40" y="173.86" width="7.70" height="8.34" fill="#000"/>
<line x1="338.55" y1="168.56" x2="338.55" y2="158.60" stroke="#222" stroke-width="0.8"/>
<line x1="337.85" y1="158.90" x2="339.25" y2="158.90" stroke="#222" stroke-width="0.7"/>
<text x="338.55" y="158.80" font-size="5.5" text-anchor="middle" >*</text>
<line x1="346.25" y1="173.86" x2="346.25" y2="169.58" stroke="#222" stroke-width="0.8"/>
<line x1="345.55" y1="169.88" x2="346.95" y2="169.88" stroke="#222" stroke-width="0.7"/>
<text x="346.25" y="169.78" font-size="5.5" text-anchor="middle" >*</text>
<rect x="354.50" y="156.57" width="7.30" height="25.63" fill="#b6b6b6" stroke="#666" stroke-width="0.5"/>
<rect x="361.80" y="166.84" width="7.70" height="15.36" fill="#000"/>
<line x1="357.95" y1="156.57" x2="357.95" y2="143.55" stroke="#222" stroke-width="0.8"/>
<line x1="357.25" y1="143.85" x2="358.65" y2="143.85" stroke="#222" stroke-width="0.7"/>
<text x="357.95" y="143.75" font-size="5.5" text-anchor="middle" >*</text>
<line x1="365.65" y1="166.84" x2="365.65" y2="159.92" stroke="#222" stroke-width="0.8"/>
<line x1="364.95" y1="160.22" x2="366.35" y2="160.22" stroke="#222" stroke-width="0.7"/>
<text x="365.65" y="160.12" font-size="5.5" text-anchor="middle" >*</text>
<rect x="373.90" y="131.35" width="7.30" height="50.85" fill="#b6b6b6" stroke="#666" stroke-width="0.5"/>
<rect x="381.20" y="150.26" width="7.70" height="31.94" fill="#000"/>
<line x1="377.35" y1="131.35" x2="377.35" y2="124.03" stroke="#222" stroke-width="0.8"/>
<line x1="376.65" y1="124.33" x2="378.05" y2="124.33" stroke="#222" stroke-width="0.7"/>
<text x="377.35" y="124.23" font-size="5.5" text-anchor="middle" >*</text>
<line x1="385.05" y1="150.26" x2="385.05" y2="131.35" stroke="#222" stroke-width="0.8"/>
<line x1="384.35" y1="131.65" x2="385.75" y2="131.65" stroke="#222" stroke-width="0.7"/>
<text x="385.05" y="131.55" font-size="5.5" text-anchor="middle" >*</text>
<line x1="293.30" y1="121.20" x2="293.30" y2="182.20" stroke="#000" stroke-width="0.9"/>
<line x1="293.30" y1="182.20" x2="390.40" y2="182.20" stroke="#000" stroke-width="0.9"/>
<line x1="291.70" y1="182.20" x2="293.30" y2="182.20" stroke="#000" stroke-width="0.8"/>
<text x="290.90" y="184.66" font-size="6.0" text-anchor="end" >0</text>
<line x1="291.70" y1="172.03" x2="293.30" y2="172.03" stroke="#000" stroke-width="0.8"/>
<text x="290.90" y="174.49" font-size="6.0" text-anchor="end" >10</text>
<line x1="291.70" y1="161.87" x2="293.30" y2="161.87" stroke="#000" stroke-width="0.8"/>
<text x="290.90" y="164.33" font-size="6.0" text-anchor="end" >20</text>
<line x1="291.70" y1="151.70" x2="293.30" y2="151.70" stroke="#000" stroke-width="0.8"/>
<text x="290.90" y="154.16" font-size="6.0" text-anchor="end" >30</text>
<line x1="291.70" y1="141.53" x2="293.30" y2="141.53" stroke="#000" stroke-width="0.8"/>
<text x="290.90" y="143.99" font-size="6.0" text-anchor="end" >40</text>
<line x1="291.70" y1="131.37" x2="293.30" y2="131.37" stroke="#000" stroke-width="0.8"/>
<text x="290.90" y="133.83" font-size="6.0" text-anchor="end" >50</text>
<line x1="291.70" y1="121.20" x2="293.30" y2="121.20" stroke="#000" stroke-width="0.8"/>
<text x="290.90" y="123.66" font-size="6.0" text-anchor="end" >60</text>
<line x1="313.30" y1="182.20" x2="313.30" y2="183.60" stroke="#000" stroke-width="0.7"/>
<line x1="332.70" y1="182.20" x2="332.70" y2="183.60" stroke="#000" stroke-width="0.7"/>
<line x1="352.10" y1="182.20" x2="352.10" y2="183.60" stroke="#000" stroke-width="0.7"/>
<line x1="371.50" y1="182.20" x2="371.50" y2="183.60" stroke="#000" stroke-width="0.7"/>
<line x1="390.90" y1="182.20" x2="390.90" y2="183.60" stroke="#000" stroke-width="0.7"/>
<text x="304.00" y="189.30" font-size="6.0" text-anchor="middle" >Co</text>
<text x="323.40" y="189.30" font-size="6.0" text-anchor="middle" >1</text>
<text x="342.80" y="189.30" font-size="6.0" text-anchor="middle" >5</text>
<text x="362.20" y="189.30" font-size="6.0" text-anchor="middle" >10</text>
<text x="381.60" y="189.30" font-size="6.0" text-anchor="middle" >20</text>
<path d="M313.50,188.90 V192.20 H391.00 V188.90" fill="none" stroke="#000" stroke-width="0.8"/>
<text x="353.90" y="201.00" font-size="6.8" text-anchor="middle" >5-Azacytidine [µM]</text>
<text x="318.50" y="119.90" font-size="6.8" text-anchor="middle" >HMC-1.2</text>
<text x="318.50" y="127.30" font-size="6.8" text-anchor="middle" >(KIT D816V+)</text>
<text transform="translate(279.93,155.60) rotate(-90)" x="0" y="0" font-size="6.85" text-anchor="middle">% active caspase-3+ cells</text>
<rect x="421.10" y="175.77" width="7.40" height="6.43" fill="#b6b6b6" stroke="#666" stroke-width="0.5"/>
<rect x="428.50" y="178.68" width="7.80" height="3.52" fill="#000"/>
<line x1="424.60" y1="175.77" x2="424.60" y2="173.26" stroke="#222" stroke-width="0.8"/>
<line x1="423.90" y1="173.56" x2="425.30" y2="173.56" stroke="#222" stroke-width="0.7"/>
<rect x="440.20" y="170.14" width="7.40" height="12.06" fill="#b6b6b6" stroke="#666" stroke-width="0.5"/>
<rect x="447.60" y="163.71" width="7.80" height="18.49" fill="#000"/>
<line x1="443.70" y1="170.14" x2="443.70" y2="165.52" stroke="#222" stroke-width="0.8"/>
<line x1="443.00" y1="165.82" x2="444.40" y2="165.82" stroke="#222" stroke-width="0.7"/>
<text x="443.70" y="165.72" font-size="5.5" text-anchor="middle" >*</text>
<line x1="451.50" y1="163.71" x2="451.50" y2="158.58" stroke="#222" stroke-width="0.8"/>
<line x1="450.80" y1="158.88" x2="452.20" y2="158.88" stroke="#222" stroke-width="0.7"/>
<text x="451.50" y="158.78" font-size="5.5" text-anchor="middle" >*</text>
<rect x="459.30" y="168.13" width="7.40" height="14.07" fill="#b6b6b6" stroke="#666" stroke-width="0.5"/>
<rect x="466.70" y="155.47" width="7.80" height="26.73" fill="#000"/>
<line x1="462.80" y1="168.13" x2="462.80" y2="162.40" stroke="#222" stroke-width="0.8"/>
<line x1="462.10" y1="162.70" x2="463.50" y2="162.70" stroke="#222" stroke-width="0.7"/>
<text x="462.80" y="162.60" font-size="5.5" text-anchor="middle" >*</text>
<line x1="470.60" y1="155.47" x2="470.60" y2="152.15" stroke="#222" stroke-width="0.8"/>
<line x1="469.90" y1="152.45" x2="471.30" y2="152.45" stroke="#222" stroke-width="0.7"/>
<text x="470.60" y="152.35" font-size="5.5" text-anchor="middle" >*</text>
<rect x="478.40" y="164.51" width="7.40" height="17.69" fill="#b6b6b6" stroke="#666" stroke-width="0.5"/>
<rect x="485.80" y="143.11" width="7.80" height="39.09" fill="#000"/>
<line x1="481.90" y1="164.51" x2="481.90" y2="156.07" stroke="#222" stroke-width="0.8"/>
<line x1="481.20" y1="156.37" x2="482.60" y2="156.37" stroke="#222" stroke-width="0.7"/>
<text x="481.90" y="156.27" font-size="5.5" text-anchor="middle" >*</text>
<line x1="489.70" y1="143.11" x2="489.70" y2="137.48" stroke="#222" stroke-width="0.8"/>
<line x1="489.00" y1="137.78" x2="490.40" y2="137.78" stroke="#222" stroke-width="0.7"/>
<text x="489.70" y="137.68" font-size="5.5" text-anchor="middle" >*</text>
<rect x="497.50" y="155.47" width="7.40" height="26.73" fill="#b6b6b6" stroke="#666" stroke-width="0.5"/>
<rect x="504.90" y="138.08" width="7.80" height="44.12" fill="#000"/>
<line x1="501.00" y1="155.47" x2="501.00" y2="144.01" stroke="#222" stroke-width="0.8"/>
<line x1="500.30" y1="144.31" x2="501.70" y2="144.31" stroke="#222" stroke-width="0.7"/>
<text x="501.00" y="144.21" font-size="5.5" text-anchor="middle" >*</text>
<line x1="508.80" y1="138.08" x2="508.80" y2="133.66" stroke="#222" stroke-width="0.8"/>
<line x1="508.10" y1="133.96" x2="509.50" y2="133.96" stroke="#222" stroke-width="0.7"/>
<text x="508.80" y="133.86" font-size="5.5" text-anchor="middle" >*</text>
<line x1="418.90" y1="121.90" x2="418.90" y2="182.20" stroke="#000" stroke-width="0.9"/>
<line x1="418.90" y1="182.20" x2="514.20" y2="182.20" stroke="#000" stroke-width="0.9"/>
<line x1="417.30" y1="182.20" x2="418.90" y2="182.20" stroke="#000" stroke-width="0.8"/>
<text x="416.50" y="184.66" font-size="6.0" text-anchor="end" >0</text>
<line x1="417.30" y1="172.15" x2="418.90" y2="172.15" stroke="#000" stroke-width="0.8"/>
<text x="416.50" y="174.61" font-size="6.0" text-anchor="end" >10</text>
<line x1="417.30" y1="162.10" x2="418.90" y2="162.10" stroke="#000" stroke-width="0.8"/>
<text x="416.50" y="164.56" font-size="6.0" text-anchor="end" >20</text>
<line x1="417.30" y1="152.05" x2="418.90" y2="152.05" stroke="#000" stroke-width="0.8"/>
<text x="416.50" y="154.51" font-size="6.0" text-anchor="end" >30</text>
<line x1="417.30" y1="142.00" x2="418.90" y2="142.00" stroke="#000" stroke-width="0.8"/>
<text x="416.50" y="144.46" font-size="6.0" text-anchor="end" >40</text>
<line x1="417.30" y1="131.95" x2="418.90" y2="131.95" stroke="#000" stroke-width="0.8"/>
<text x="416.50" y="134.41" font-size="6.0" text-anchor="end" >50</text>
<line x1="417.30" y1="121.90" x2="418.90" y2="121.90" stroke="#000" stroke-width="0.8"/>
<text x="416.50" y="124.36" font-size="6.0" text-anchor="end" >60</text>
<line x1="438.05" y1="182.20" x2="438.05" y2="183.60" stroke="#000" stroke-width="0.7"/>
<line x1="457.15" y1="182.20" x2="457.15" y2="183.60" stroke="#000" stroke-width="0.7"/>
<line x1="476.25" y1="182.20" x2="476.25" y2="183.60" stroke="#000" stroke-width="0.7"/>
<line x1="495.35" y1="182.20" x2="495.35" y2="183.60" stroke="#000" stroke-width="0.7"/>
<line x1="514.45" y1="182.20" x2="514.45" y2="183.60" stroke="#000" stroke-width="0.7"/>
<text x="429.00" y="190.00" font-size="6.0" text-anchor="middle" >Co</text>
<text x="448.10" y="190.00" font-size="6.0" text-anchor="middle" >1</text>
<text x="467.20" y="190.00" font-size="6.0" text-anchor="middle" >5</text>
<text x="486.30" y="190.00" font-size="6.0" text-anchor="middle" >10</text>
<text x="505.40" y="190.00" font-size="6.0" text-anchor="middle" >20</text>
<path d="M437.10,189.10 V192.40 H515.80 V189.10" fill="none" stroke="#000" stroke-width="0.8"/>
<text x="477.30" y="200.70" font-size="6.8" text-anchor="middle" >Decitabine [µM]</text>
<text x="442.70" y="121.10" font-size="6.8" text-anchor="middle" >HMC-1.2</text>
<text x="442.40" y="128.00" font-size="6.8" text-anchor="middle" >(KIT D816V+)</text>
<text transform="translate(405.13,156.45) rotate(-90)" x="0" y="0" font-size="6.85" text-anchor="middle">% active caspase-3+ cells</text>
<rect x="165.60" y="284.30" width="8.10" height="5.90" fill="#b6b6b6" stroke="#666" stroke-width="0.5"/>
<rect x="173.70" y="287.08" width="8.50" height="3.12" fill="#000"/>
<rect x="187.05" y="271.38" width="8.10" height="18.82" fill="#b6b6b6" stroke="#666" stroke-width="0.5"/>
<rect x="195.15" y="280.85" width="8.50" height="9.35" fill="#000"/>
<rect x="208.50" y="267.04" width="8.10" height="23.16" fill="#b6b6b6" stroke="#666" stroke-width="0.5"/>
<rect x="216.60" y="272.61" width="8.50" height="17.59" fill="#000"/>
<rect x="229.95" y="262.03" width="8.10" height="28.17" fill="#b6b6b6" stroke="#666" stroke-width="0.5"/>
<rect x="238.05" y="250.12" width="8.50" height="40.08" fill="#000"/>
<rect x="251.40" y="245.00" width="8.10" height="45.20" fill="#b6b6b6" stroke="#666" stroke-width="0.5"/>
<rect x="259.50" y="240.55" width="8.50" height="49.65" fill="#000"/>
<line x1="163.00" y1="223.40" x2="163.00" y2="290.20" stroke="#000" stroke-width="0.9"/>
<line x1="163.00" y1="290.20" x2="269.50" y2="290.20" stroke="#000" stroke-width="0.9"/>
<line x1="161.40" y1="290.20" x2="163.00" y2="290.20" stroke="#000" stroke-width="0.8"/>
<text x="160.00" y="292.61" font-size="6.7" text-anchor="end" >0</text>
<line x1="161.40" y1="279.07" x2="163.00" y2="279.07" stroke="#000" stroke-width="0.8"/>
<text x="160.00" y="281.48" font-size="6.7" text-anchor="end" >10</text>
<line x1="161.40" y1="267.93" x2="163.00" y2="267.93" stroke="#000" stroke-width="0.8"/>
<text x="160.00" y="270.35" font-size="6.7" text-anchor="end" >20</text>
<line x1="161.40" y1="256.80" x2="163.00" y2="256.80" stroke="#000" stroke-width="0.8"/>
<text x="160.00" y="259.21" font-size="6.7" text-anchor="end" >30</text>
<line x1="161.40" y1="245.67" x2="163.00" y2="245.67" stroke="#000" stroke-width="0.8"/>
<text x="160.00" y="248.08" font-size="6.7" text-anchor="end" >40</text>
<line x1="161.40" y1="234.53" x2="163.00" y2="234.53" stroke="#000" stroke-width="0.8"/>
<text x="160.00" y="236.95" font-size="6.7" text-anchor="end" >50</text>
<line x1="161.40" y1="223.40" x2="163.00" y2="223.40" stroke="#000" stroke-width="0.8"/>
<text x="160.00" y="225.81" font-size="6.7" text-anchor="end" >60</text>
<line x1="184.42" y1="290.20" x2="184.42" y2="291.60" stroke="#000" stroke-width="0.7"/>
<line x1="205.88" y1="290.20" x2="205.88" y2="291.60" stroke="#000" stroke-width="0.7"/>
<line x1="227.32" y1="290.20" x2="227.32" y2="291.60" stroke="#000" stroke-width="0.7"/>
<line x1="248.78" y1="290.20" x2="248.78" y2="291.60" stroke="#000" stroke-width="0.7"/>
<line x1="270.22" y1="290.20" x2="270.22" y2="291.60" stroke="#000" stroke-width="0.7"/>
<text x="173.70" y="298.00" font-size="6.8" text-anchor="middle" >Co</text>
<text x="195.15" y="298.00" font-size="6.8" text-anchor="middle" >1</text>
<text x="216.60" y="298.00" font-size="6.8" text-anchor="middle" >5</text>
<text x="238.05" y="298.00" font-size="6.8" text-anchor="middle" >10</text>
<text x="259.50" y="298.00" font-size="6.8" text-anchor="middle" >20</text>
<path d="M184.30,296.80 V300.10 H268.00 V296.80" fill="none" stroke="#000" stroke-width="0.8"/>
<text x="226.90" y="308.90" font-size="7.3" text-anchor="middle" >5-Azacytidine [µM]</text>
<text x="182.40" y="221.80" font-size="7.3" text-anchor="middle" >ASM</text>
<text transform="translate(148.65,258.40) rotate(-90)" x="0" y="0" font-size="7.2" text-anchor="middle">% apoptotic cells</text>
<rect x="299.50" y="284.07" width="7.80" height="6.03" fill="#b6b6b6" stroke="#666" stroke-width="0.5"/>
<rect x="307.30" y="286.04" width="8.20" height="4.06" fill="#000"/>
<rect x="320.80" y="272.33" width="7.80" height="17.77" fill="#b6b6b6" stroke="#666" stroke-width="0.5"/>
<rect x="328.60" y="283.08" width="8.20" height="7.02" fill="#000"/>
<rect x="342.10" y="264.44" width="7.80" height="25.66" fill="#b6b6b6" stroke="#666" stroke-width="0.5"/>
<rect x="349.90" y="259.28" width="8.20" height="30.82" fill="#000"/>
<rect x="363.40" y="267.95" width="7.80" height="22.15" fill="#b6b6b6" stroke="#666" stroke-width="0.5"/>
<rect x="371.20" y="242.29" width="8.20" height="47.81" fill="#000"/>
<rect x="384.70" y="261.37" width="7.80" height="28.73" fill="#b6b6b6" stroke="#666" stroke-width="0.5"/>
<rect x="392.50" y="231.87" width="8.20" height="58.23" fill="#000"/>
<line x1="296.70" y1="224.30" x2="296.70" y2="290.10" stroke="#000" stroke-width="0.9"/>
<line x1="296.70" y1="290.10" x2="402.20" y2="290.10" stroke="#000" stroke-width="0.9"/>
<line x1="295.10" y1="290.10" x2="296.70" y2="290.10" stroke="#000" stroke-width="0.8"/>
<text x="293.70" y="292.51" font-size="6.7" text-anchor="end" >0</text>
<line x1="295.10" y1="279.13" x2="296.70" y2="279.13" stroke="#000" stroke-width="0.8"/>
<text x="293.70" y="281.55" font-size="6.7" text-anchor="end" >10</text>
<line x1="295.10" y1="268.17" x2="296.70" y2="268.17" stroke="#000" stroke-width="0.8"/>
<text x="293.70" y="270.58" font-size="6.7" text-anchor="end" >20</text>
<line x1="295.10" y1="257.20" x2="296.70" y2="257.20" stroke="#000" stroke-width="0.8"/>
<text x="293.70" y="259.61" font-size="6.7" text-anchor="end" >30</text>
<line x1="295.10" y1="246.23" x2="296.70" y2="246.23" stroke="#000" stroke-width="0.8"/>
<text x="293.70" y="248.65" font-size="6.7" text-anchor="end" >40</text>
<line x1="295.10" y1="235.27" x2="296.70" y2="235.27" stroke="#000" stroke-width="0.8"/>
<text x="293.70" y="237.68" font-size="6.7" text-anchor="end" >50</text>
<line x1="295.10" y1="224.30" x2="296.70" y2="224.30" stroke="#000" stroke-width="0.8"/>
<text x="293.70" y="226.71" font-size="6.7" text-anchor="end" >60</text>
<line x1="317.95" y1="290.10" x2="317.95" y2="291.50" stroke="#000" stroke-width="0.7"/>
<line x1="339.25" y1="290.10" x2="339.25" y2="291.50" stroke="#000" stroke-width="0.7"/>
<line x1="360.55" y1="290.10" x2="360.55" y2="291.50" stroke="#000" stroke-width="0.7"/>
<line x1="381.85" y1="290.10" x2="381.85" y2="291.50" stroke="#000" stroke-width="0.7"/>
<line x1="403.15" y1="290.10" x2="403.15" y2="291.50" stroke="#000" stroke-width="0.7"/>
<text x="307.30" y="298.30" font-size="6.8" text-anchor="middle" >Co</text>
<text x="328.60" y="298.30" font-size="6.8" text-anchor="middle" >1</text>
<text x="349.90" y="298.30" font-size="6.8" text-anchor="middle" >5</text>
<text x="371.20" y="298.30" font-size="6.8" text-anchor="middle" >10</text>
<text x="392.50" y="298.30" font-size="6.8" text-anchor="middle" >20</text>
<path d="M318.80,297.60 V300.90 H401.80 V297.60" fill="none" stroke="#000" stroke-width="0.8"/>
<text x="360.60" y="308.40" font-size="7.3" text-anchor="middle" >Decitabine [µM]</text>
<text x="315.00" y="221.80" font-size="7.3" text-anchor="middle" >ASM</text>
<text transform="translate(282.05,256.60) rotate(-90)" x="0" y="0" font-size="7.2" text-anchor="middle">% apoptotic cells</text>
<text x="0.90" y="10.40" font-size="12.4" text-anchor="start" font-weight="normal" style="font-weight:normal;stroke-width:0.45px">A</text>
<text x="272.60" y="10.20" font-size="12.0" text-anchor="start" font-weight="normal" style="font-weight:normal;stroke-width:0.45px">B</text>
<text x="140.90" y="211.10" font-size="11.8" text-anchor="start" font-weight="normal" style="font-weight:normal;stroke-width:0.45px">C</text>
</svg>
</body></html>
